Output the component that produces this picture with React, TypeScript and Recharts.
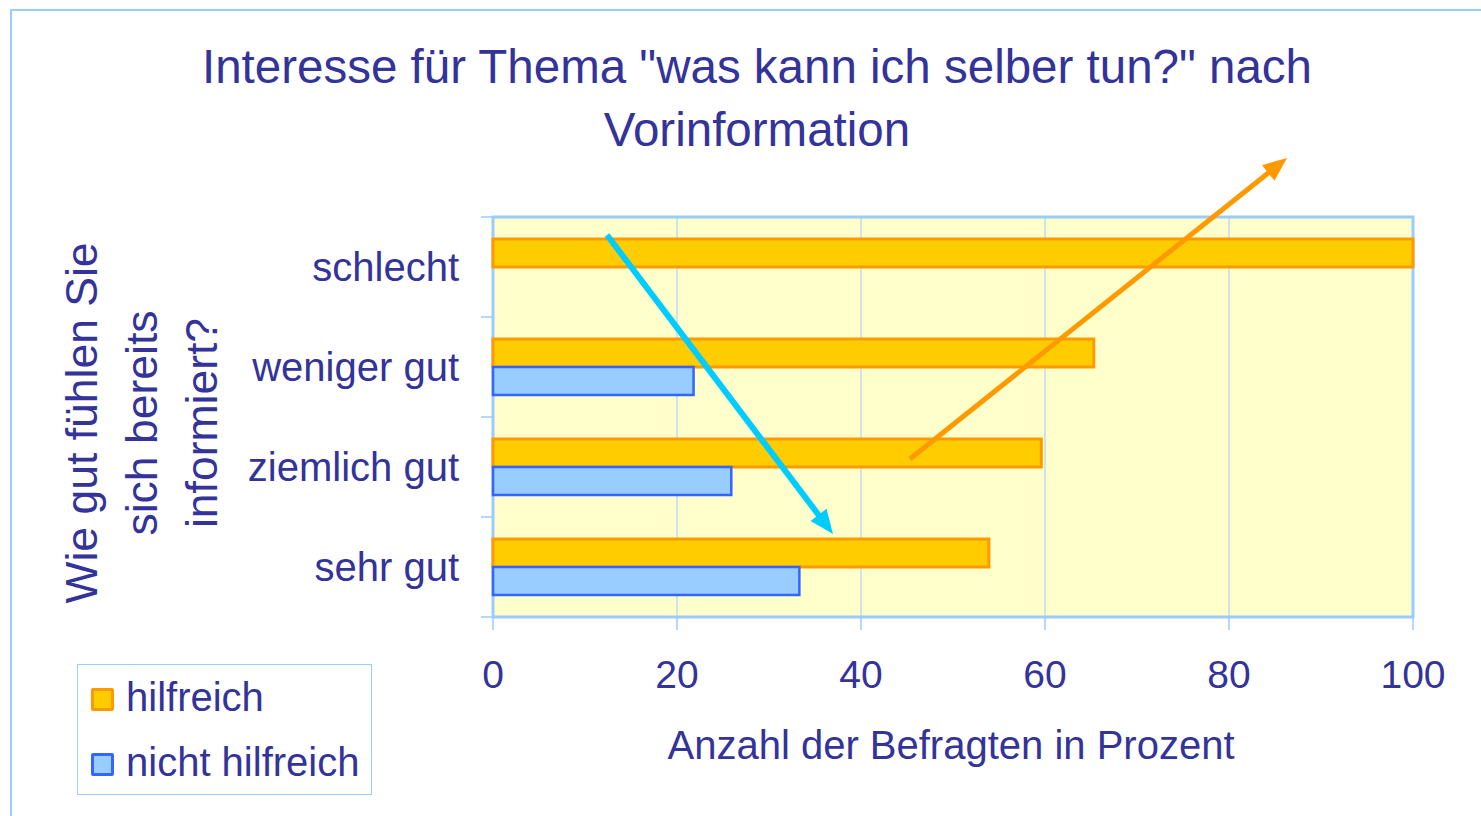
import React from 'react';
import { BarChart, Bar, XAxis, YAxis, CartesianGrid, ReferenceArea, Legend } from 'recharts';

const categories = ['schlecht', 'weniger gut', 'ziemlich gut', 'sehr gut'];
const hilfreich = [100, 65.3, 59.6, 53.9];
const nichtHilfreich = [0, 21.8, 25.9, 33.3];
const xTicks = [0, 20, 40, 60, 80, 100];
const seriesNames = ['hilfreich', 'nicht hilfreich'];
const titleLines = ['Interesse für Thema "was kann ich selber tun?" nach', 'Vorinformation'];
const yTitleLines = ['Wie gut fühlen Sie', 'sich bereits', 'informiert?'];
const xTitle = 'Anzahl der Befragten in Prozent';

const data = categories.map((name, i) => ({
  name,
  hilfreich: hilfreich[i],
  nichtHilfreich: nichtHilfreich[i],
}));

const FONT = '"Liberation Sans", Arial, sans-serif';
const TEXT = '#333399';
const FRAME = '#99CCFF';
const ORANGE_FILL = '#FFCC00';
const ORANGE_STROKE = '#FF9900';
const BLUE_FILL = '#99CCFF';
const BLUE_STROKE = '#3366FF';

const W = 1481;
const H = 816;
const MARGIN = { top: 217, right: 68, bottom: 139, left: 0 };
const Y_AXIS_W = 493;
const X_AXIS_H = 60;
const PLOT_H = H - MARGIN.top - MARGIN.bottom - X_AXIS_H;
const BAND = PLOT_H / categories.length;
const Y_TICK_SIZE = 12;
const Y_TICK_MARGIN = 22;

const YTick = (props: any) => {
  const { x, y, payload, index } = props;
  const lx1 = x + Y_TICK_MARGIN;
  const lx2 = x + Y_TICK_MARGIN + Y_TICK_SIZE;
  return (
    <g>
      <line x1={lx1} x2={lx2} y1={y - BAND / 2} y2={y - BAND / 2} stroke={FRAME} strokeWidth={1.5} />
      {index === categories.length - 1 && (
        <line x1={lx1} x2={lx2} y1={y + BAND / 2} y2={y + BAND / 2} stroke={FRAME} strokeWidth={1.5} />
      )}
      <text x={x} y={y} dy="0.34em" textAnchor="end" fill={TEXT} fontSize={40} fontFamily={FONT}>
        {payload.value}
      </text>
    </g>
  );
};

const LegendBox = () => {
  const items = [
    { label: seriesNames[0], fill: ORANGE_FILL, stroke: ORANGE_STROKE },
    { label: seriesNames[1], fill: BLUE_FILL, stroke: BLUE_STROKE },
  ];
  return (
    <div
      style={{
        boxSizing: 'border-box',
        width: 295,
        height: 131,
        border: `1px solid ${FRAME}`,
        background: '#fff',
        paddingTop: 8,
        fontFamily: FONT,
      }}
    >
      {items.map((it, i) => (
        <div key={i} style={{ display: 'flex', alignItems: 'center', height: 48, marginBottom: i === 0 ? 17 : 0, paddingLeft: 13 }}>
          <div
            style={{
              boxSizing: 'border-box',
              width: 23,
              height: 23,
              background: it.fill,
              border: `3px solid ${it.stroke}`,
              borderRadius: 2,
              marginRight: 12,
              marginTop: 5,
            }}
          />
          <span style={{ fontSize: 40, color: TEXT, lineHeight: '48px' }}>{it.label}</span>
        </div>
      ))}
    </div>
  );
};

const Arrow = ({ x1, y1, x2, y2, color, width, headLen, headW }: any) => {
  const dx = x2 - x1;
  const dy = y2 - y1;
  const len = Math.hypot(dx, dy);
  const ux = dx / len;
  const uy = dy / len;
  const bx = x2 - ux * headLen;
  const by = y2 - uy * headLen;
  const px = -uy;
  const py = ux;
  const pts = [
    [x2, y2],
    [bx + (px * headW) / 2, by + (py * headW) / 2],
    [bx - (px * headW) / 2, by - (py * headW) / 2],
  ]
    .map((p) => p.join(','))
    .join(' ');
  return (
    <g>
      <line x1={x1} y1={y1} x2={bx + ux * 2} y2={by + uy * 2} stroke={color} strokeWidth={width} />
      <polygon points={pts} fill={color} />
    </g>
  );
};

export default function App() {
  return (
    <div style={{ position: 'absolute', left: 0, top: 0, width: W, height: H, overflow: 'hidden', background: '#fff' }}>
      <div
        style={{
          position: 'absolute',
          left: 10,
          top: 9,
          width: W + 20,
          height: H + 20,
          border: `2px solid ${FRAME}`,
        }}
      />
      <div style={{ position: 'absolute', left: 0, top: 0 }}>
        <BarChart
          width={W}
          height={H}
          data={data}
          layout="vertical"
          margin={MARGIN}
          barGap={0}
          barSize={28}
        >
          <CartesianGrid horizontal={false} stroke={FRAME} strokeWidth={1} fill="#FFFFCC" fillOpacity={1} />
          <ReferenceArea x1={0} x2={100} fill="none" fillOpacity={0} stroke={FRAME} strokeWidth={3} ifOverflow="visible" />
          <Bar dataKey="hilfreich" name={seriesNames[0]} fill={ORANGE_FILL} stroke={ORANGE_STROKE} strokeWidth={3} isAnimationActive={false} />
          <Bar dataKey="nichtHilfreich" name={seriesNames[1]} fill={BLUE_FILL} stroke={BLUE_STROKE} strokeWidth={2.5} isAnimationActive={false} />
          <XAxis
            type="number"
            domain={[0, 100]}
            ticks={xTicks}
            interval={0}
            height={X_AXIS_H}
            axisLine={false}
            tickLine={{ stroke: FRAME, strokeWidth: 1.5 }}
            tickSize={13}
            tickMargin={30}
            tick={{ fill: TEXT, fontSize: 39, fontFamily: FONT }}
          />
          <YAxis
            type="category"
            dataKey="name"
            width={Y_AXIS_W}
            axisLine={false}
            tickLine={false}
            tickSize={Y_TICK_SIZE}
            tickMargin={Y_TICK_MARGIN}
            tick={<YTick />}
            interval={0}
          />
          <Legend
            layout="vertical"
            align="center"
            verticalAlign="middle"
            content={<LegendBox />}
            wrapperStyle={{ left: 77, top: 664, width: 295, height: 131 }}
          />
        </BarChart>
      </div>
      <svg width={W} height={H} style={{ position: 'absolute', left: 0, top: 0, pointerEvents: 'none' }}>
        <text x={757} y={83} textAnchor="middle" fill={TEXT} fontSize={47.5} fontFamily={FONT}>
          {titleLines[0]}
        </text>
        <text x={757} y={146} textAnchor="middle" fill={TEXT} fontSize={47.5} fontFamily={FONT}>
          {titleLines[1]}
        </text>
        {yTitleLines.map((t, i) => (
          <text
            key={i}
            transform={`translate(${97 + i * 60}, 423) rotate(-90)`}
            textAnchor="middle"
            fill={TEXT}
            fontSize={44.5}
            fontFamily={FONT}
          >
            {t}
          </text>
        ))}
        <text x={951} y={759} textAnchor="middle" fill={TEXT} fontSize={40} fontFamily={FONT}>
          {xTitle}
        </text>
        <Arrow x1={607} y1={235} x2={833} y2={534} color="#00CCFF" width={6} headLen={24} headW={20} />
        <Arrow x1={910} y1={459} x2={1287} y2={158} color="#FF9900" width={5} headLen={24} headW={20} />
      </svg>
    </div>
  );
}
